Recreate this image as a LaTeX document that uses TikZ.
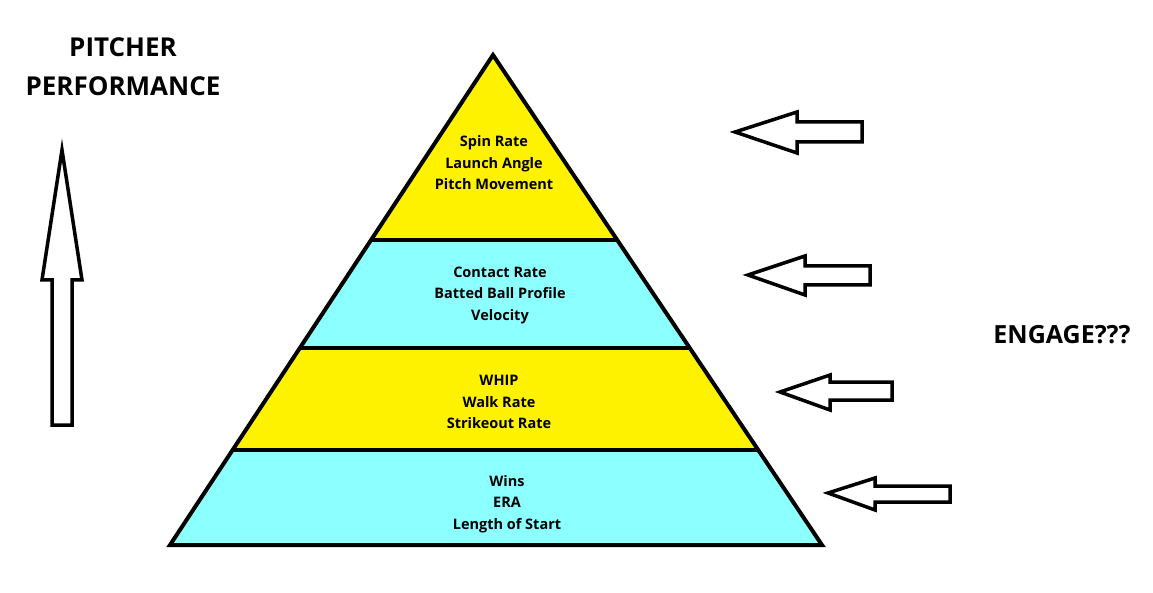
\documentclass[tikz,border=0pt]{standalone}
\usepackage{fontspec}
\setmainfont{Open Sans}
\begin{document}
\begin{tikzpicture}[x=1pt,y=-1pt,
  edge/.style={draw=black,line width=4pt,line join=miter},
  arr/.style={draw=black,line width=3.5pt,fill=white,line join=miter},
  lbl/.style={font=\bfseries\fontsize{14.5}{21.5}\selectfont,align=center},
  ttl/.style={font=\bfseries\fontsize{26}{39}\selectfont,align=center}]
\useasboundingbox (0,0) rectangle (1153,593);
\fill[white] (0,0) rectangle (1153,593);
\fill[fill={rgb,255:red,255;green,242;blue,0}] (493,55) -- (617,240) -- (371,240) -- cycle;
\fill[fill={rgb,255:red,140;green,255;blue,255}] (371,240) -- (617,240) -- (689,348) -- (300,348) -- cycle;
\fill[fill={rgb,255:red,255;green,242;blue,0}] (300,348) -- (689,348) -- (757,450) -- (233,450) -- cycle;
\fill[fill={rgb,255:red,140;green,255;blue,255}] (233,450) -- (757,450) -- (822,545) -- (170,545) -- cycle;
\draw[edge] (493,55) -- (822,545) -- (170,545) -- cycle;
\draw[edge] (371,240) -- (617,240);
\draw[edge] (300,348) -- (689,348);
\draw[edge] (233,450) -- (757,450);
\node[lbl] (l1) at (494,163) {Spin Rate\\Launch Angle\\Pitch Movement};
\node[lbl] (l2) at (500,295) {Contact Rate\\Batted Ball Profile\\Velocity};
\node[lbl] (l3) at (499,402) {WHIP\\Walk Rate\\Strikeout Rate};
\node[lbl] (l4) at (507,504) {Wins\\ERA\\Length of Start};
\node[ttl] (t) at (123,67) {PITCHER\\PERFORMANCE};
\node[font=\bfseries\fontsize{25}{30}\selectfont] (e) at (1062,335) {ENGAGE???};
\draw[arr] (52,425) -- (52,280) -- (42,280) -- (62,150) -- (82,280) -- (72,280) -- (72,425) -- cycle;
\draw[arr] (862,122) -- (797,122) -- (797,112) -- (735,132) -- (797,153) -- (797,142) -- (862,142) -- cycle;
\draw[arr] (870,266) -- (805,266) -- (805,256) -- (748,275) -- (805,295) -- (805,285) -- (870,285) -- cycle;
\draw[arr] (892,382) -- (830,382) -- (830,375) -- (780,392) -- (830,410) -- (830,400) -- (892,400) -- cycle;
\draw[arr] (950,486) -- (875,486) -- (875,478) -- (828,493) -- (875,510) -- (875,502) -- (950,502) -- cycle;
\end{tikzpicture}
\end{document}
